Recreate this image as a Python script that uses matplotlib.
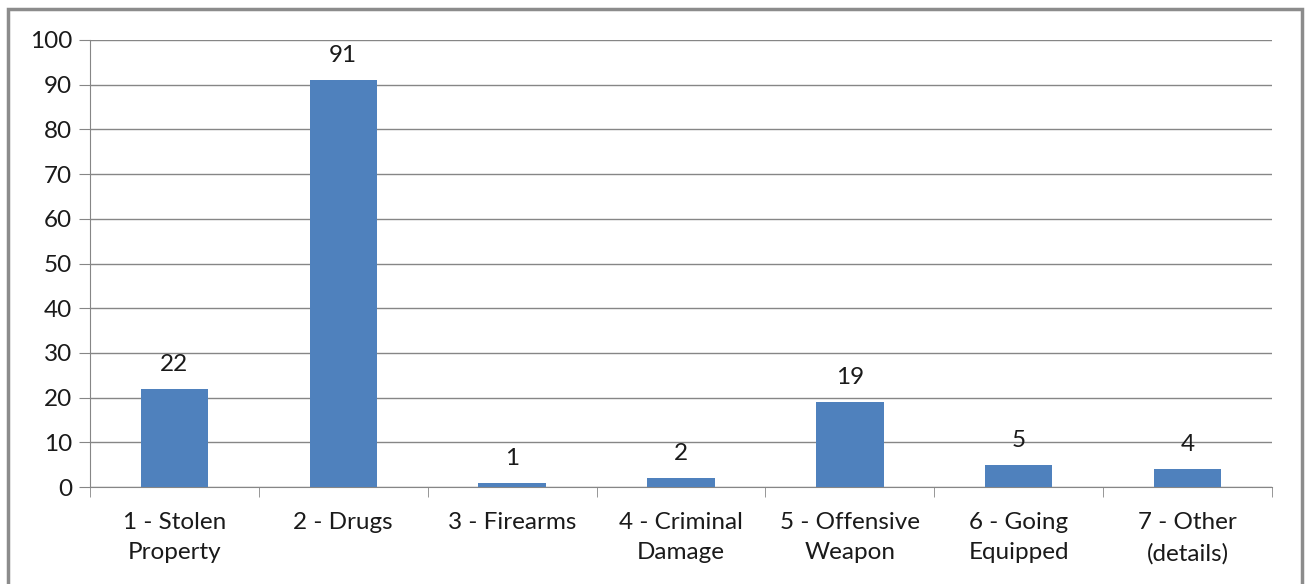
import matplotlib.pyplot as plt
from matplotlib.patches import Rectangle

categories = ["1 - Stolen\nProperty", "2 - Drugs", "3 - Firearms", "4 - Criminal\nDamage",
              "5 - Offensive\nWeapon", "6 - Going\nEquipped", "7 - Other\n(details)"]
values = [22, 91, 1, 2, 19, 5, 4]
yticks = list(range(0, 101, 10))

plt.rcParams["font.family"] = ["Lato", "DejaVu Sans"]
GRID = "#868686"
TEXT = "#1a1a1a"
FS = 17.5

fig = plt.figure(figsize=(13.06, 5.84), dpi=100)
ax = fig.add_axes([90 / 1306, 1 - 487 / 584, (1272 - 90) / 1306, (487 - 40) / 584])

x = list(range(len(values)))
ax.bar(x, values, width=0.4, color="#4F81BD", zorder=3)
for xi, v in zip(x, values):
    ax.annotate(str(v), (xi, v), xytext=(0, 10), textcoords="offset points",
                ha="center", va="bottom", fontsize=FS, color=TEXT)

ax.set_xlim(-0.5, len(values) - 0.5)
ax.set_ylim(0, 100)
ax.set_yticks(yticks)
ax.yaxis.grid(True, color=GRID, lw=1, zorder=0)
ax.tick_params(axis="y", length=8, color=GRID, labelsize=FS, labelcolor=TEXT, pad=5)

ax.set_xticks(x)
ax.set_xticklabels(categories, fontsize=FS, color=TEXT, linespacing=1.55)
ax.set_xticks([i - 0.5 for i in range(len(values) + 1)], minor=True)
ax.tick_params(axis="x", which="major", length=0, pad=18)
ax.tick_params(axis="x", which="minor", length=7, color=GRID)

for side in ("top", "right"):
    ax.spines[side].set_visible(False)
for side in ("left", "bottom"):
    ax.spines[side].set_color(GRID)

fig.patches.append(Rectangle((8 / 1306, -0.05), (1302 - 8) / 1306, 1 - 9 / 584 + 0.05,
                             transform=fig.transFigure, fill=False, ec="#8c8c8c", lw=2.5))

fig.savefig("out.png", dpi=100)
